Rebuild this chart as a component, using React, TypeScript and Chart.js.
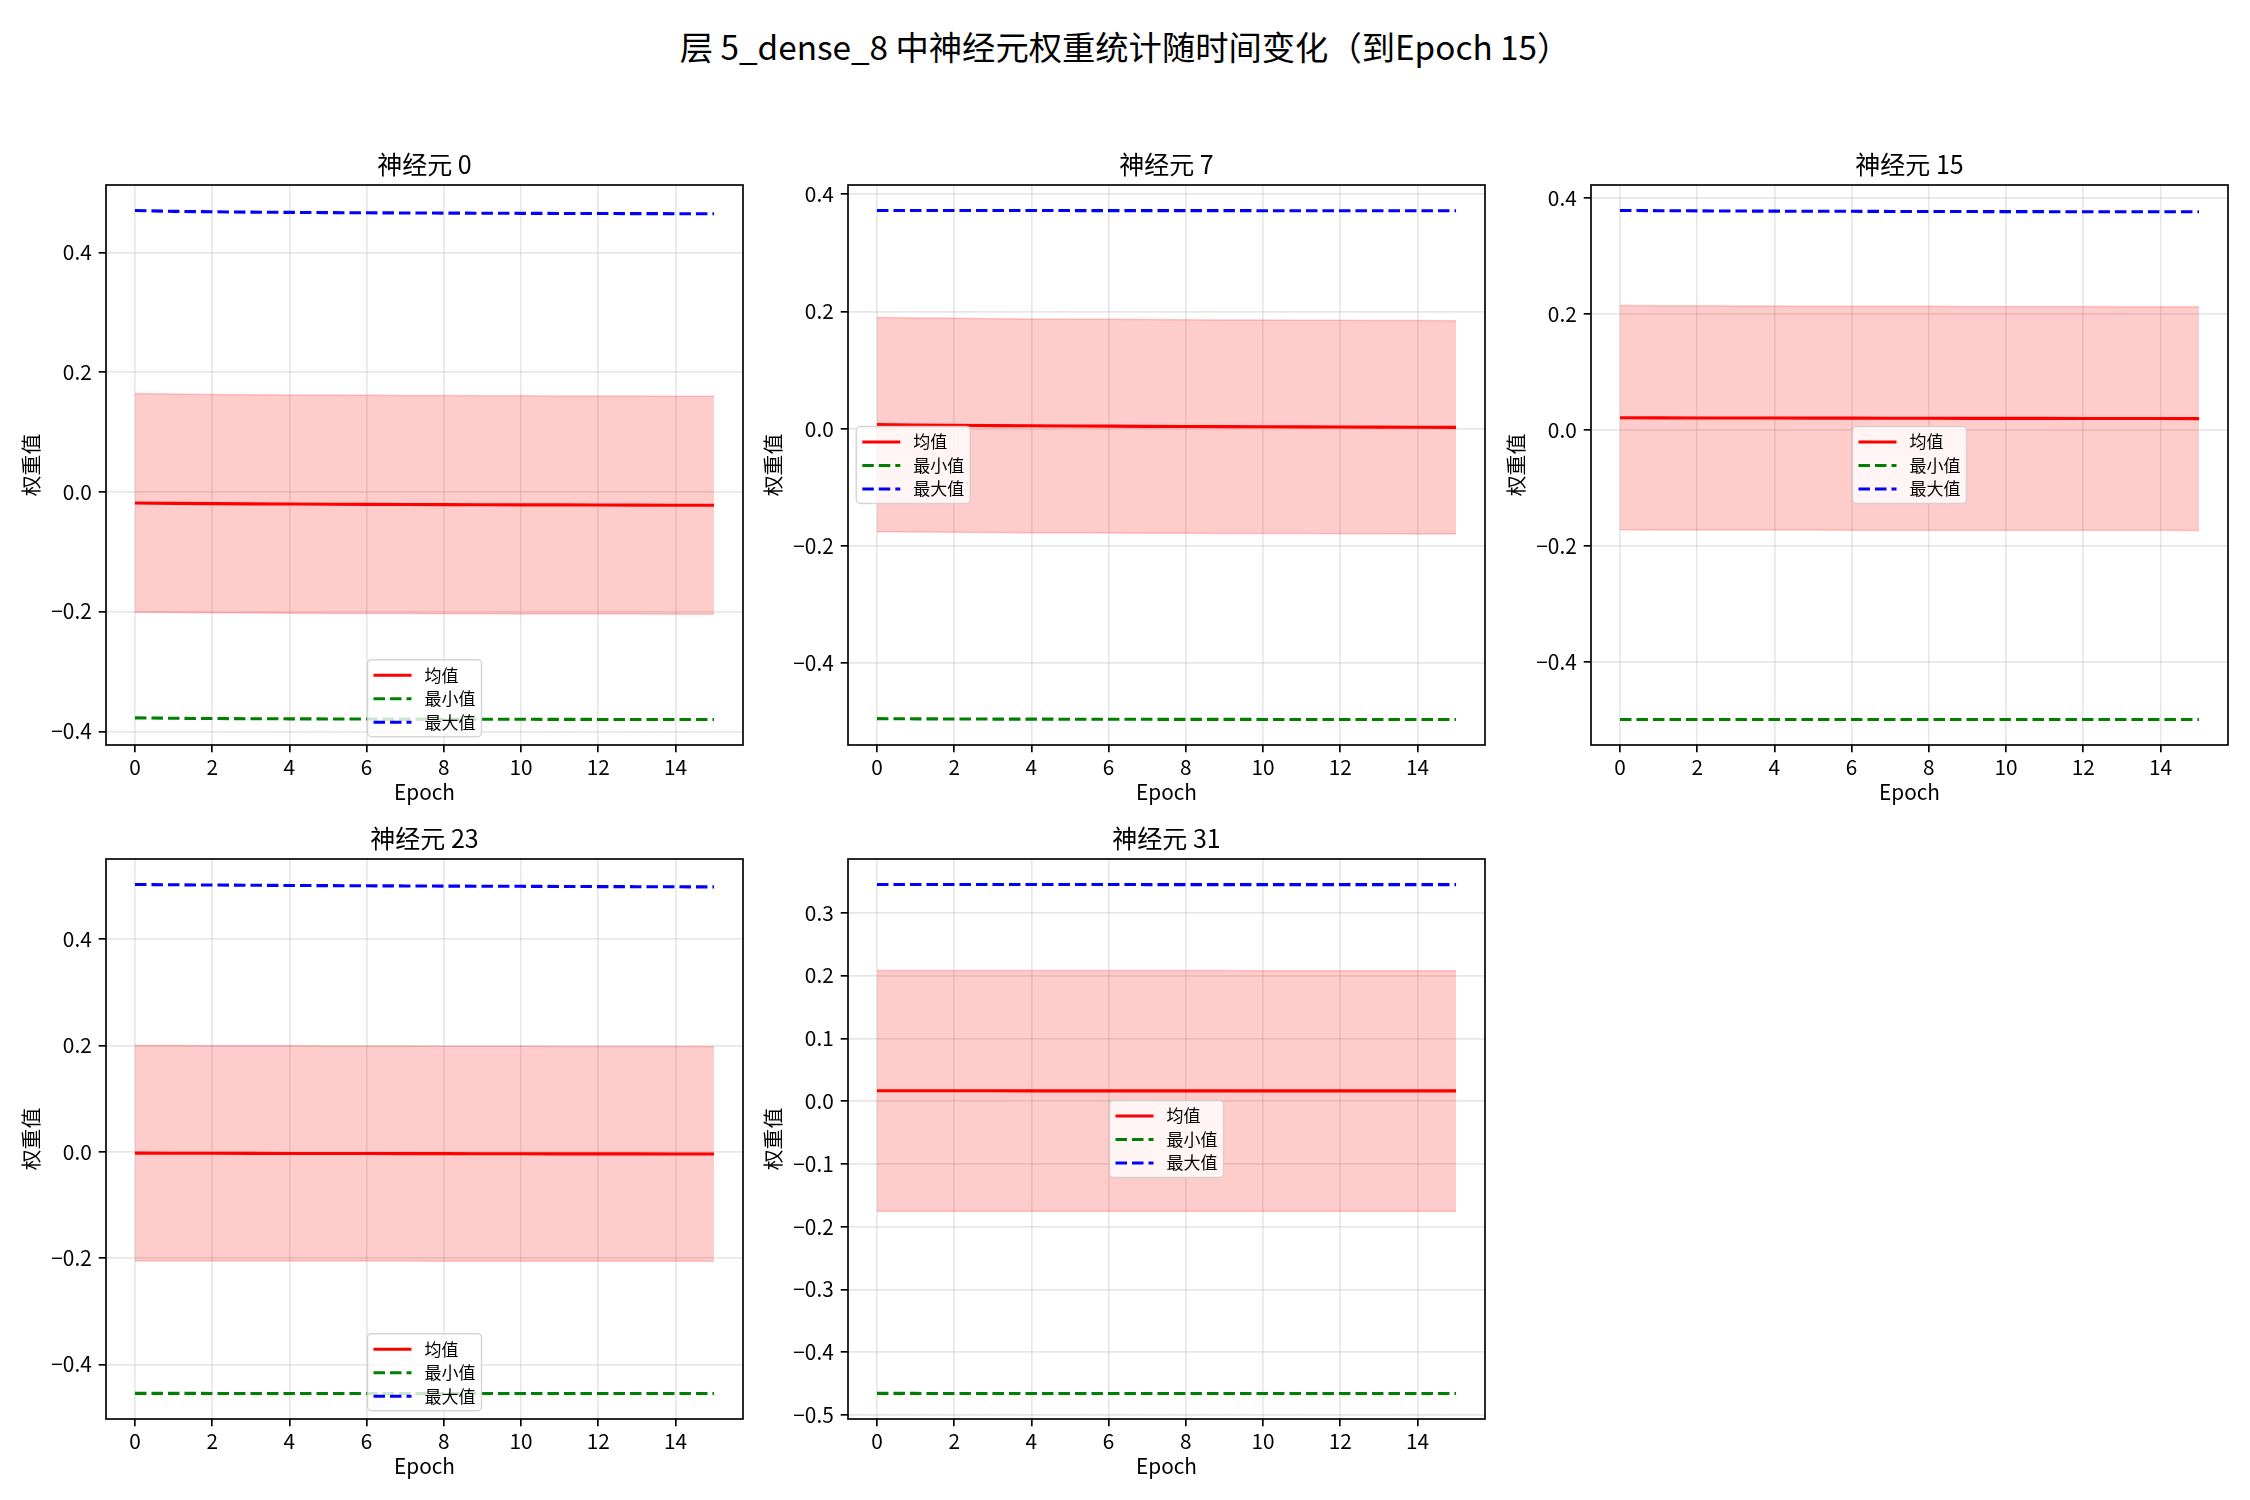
import React, { useEffect, useRef } from "react";
import { Chart, registerables } from "chart.js";

Chart.register(...registerables);

const FONT = "'Noto Sans CJK SC', 'Noto Sans', sans-serif";
Chart.defaults.font.family = FONT;
Chart.defaults.color = "#000";

// ---------------- data ----------------
const SUPTITLE = "层 5_dense_8 中神经元权重统计随时间变化（到Epoch 15）";
const epochs = [0, 1, 2, 3, 4, 5, 6, 7, 8, 9, 10, 11, 12, 13, 14, 15];
const xTicks = [0, 2, 4, 6, 8, 10, 12, 14];
const yTicksWide = [-0.4, -0.2, 0.0, 0.2, 0.4];
const yTicksFine = [-0.5, -0.4, -0.3, -0.2, -0.1, 0.0, 0.1, 0.2, 0.3];
const seriesLabels = ["均值", "最小值", "最大值"];
const xAxisLabel = "Epoch";
const yAxisLabel = "权重值";
const neuronTitles = ["神经元 0", "神经元 7", "神经元 15", "神经元 23", "神经元 31"];

// neuron 0
const mean0 = [-0.0185, -0.0192, -0.0197, -0.0201, -0.0204, -0.0207, -0.0209, -0.0211, -0.0213, -0.0215, -0.0217, -0.0218, -0.0220, -0.0221, -0.0223, -0.0224];
const std0 = [0.1826, 0.1825, 0.1824, 0.1824, 0.1823, 0.1823, 0.1823, 0.1822, 0.1822, 0.1822, 0.1822, 0.1821, 0.1821, 0.1821, 0.1821, 0.1820];
const min0 = [-0.3775, -0.3782, -0.3786, -0.3789, -0.3791, -0.3793, -0.3795, -0.3796, -0.3797, -0.3798, -0.3799, -0.3800, -0.3801, -0.3802, -0.3802, -0.3803];
const max0 = [0.4700, 0.4685, 0.4678, 0.4672, 0.4668, 0.4664, 0.4661, 0.4658, 0.4656, 0.4654, 0.4652, 0.4650, 0.4649, 0.4647, 0.4646, 0.4645];

// neuron 7
const mean7 = [0.0068, 0.0062, 0.0057, 0.0052, 0.0048, 0.0045, 0.0042, 0.0039, 0.0036, 0.0034, 0.0032, 0.0030, 0.0028, 0.0026, 0.0024, 0.0022];
const std7 = [0.1826, 0.1825, 0.1824, 0.1824, 0.1823, 0.1823, 0.1822, 0.1822, 0.1822, 0.1821, 0.1821, 0.1821, 0.1821, 0.1820, 0.1820, 0.1820];
const min7 = [-0.4948, -0.4951, -0.4953, -0.4955, -0.4956, -0.4957, -0.4958, -0.4959, -0.4960, -0.4960, -0.4961, -0.4961, -0.4962, -0.4962, -0.4963, -0.4963];
const max7 = [0.3722, 0.3721, 0.3721, 0.3720, 0.3720, 0.3720, 0.3719, 0.3719, 0.3719, 0.3719, 0.3718, 0.3718, 0.3718, 0.3718, 0.3718, 0.3717];

// neuron 15
const mean15 = [0.0209, 0.0207, 0.0205, 0.0204, 0.0203, 0.0202, 0.0201, 0.0200, 0.0199, 0.0198, 0.0197, 0.0197, 0.0196, 0.0195, 0.0195, 0.0194];
const std15 = [0.1934, 0.1933, 0.1933, 0.1932, 0.1932, 0.1931, 0.1931, 0.1930, 0.1930, 0.1930, 0.1929, 0.1929, 0.1929, 0.1928, 0.1928, 0.1928];
const min15 = [-0.4994, -0.4994, -0.4994, -0.4994, -0.4995, -0.4995, -0.4995, -0.4995, -0.4995, -0.4995, -0.4995, -0.4995, -0.4996, -0.4996, -0.4996, -0.4996];
const max15 = [0.3783, 0.3779, 0.3776, 0.3773, 0.3771, 0.3769, 0.3768, 0.3766, 0.3765, 0.3764, 0.3763, 0.3762, 0.3761, 0.3761, 0.3760, 0.3760];

// neuron 23
const mean23 = [-0.0024, -0.0026, -0.0027, -0.0029, -0.0030, -0.0031, -0.0032, -0.0033, -0.0034, -0.0035, -0.0036, -0.0037, -0.0038, -0.0038, -0.0039, -0.0040];
const std23 = [0.2027, 0.2026, 0.2025, 0.2024, 0.2024, 0.2023, 0.2023, 0.2022, 0.2022, 0.2021, 0.2021, 0.2021, 0.2020, 0.2020, 0.2020, 0.2019];
const min23 = [-0.4543, -0.4543, -0.4544, -0.4544, -0.4544, -0.4544, -0.4545, -0.4545, -0.4545, -0.4545, -0.4545, -0.4546, -0.4546, -0.4546, -0.4546, -0.4546];
const max23 = [0.5030, 0.5024, 0.5019, 0.5015, 0.5011, 0.5008, 0.5005, 0.5002, 0.4999, 0.4997, 0.4995, 0.4992, 0.4990, 0.4988, 0.4986, 0.4984];

// neuron 31
const mean31 = [0.0165, 0.0165, 0.0165, 0.0165, 0.0164, 0.0164, 0.0164, 0.0164, 0.0164, 0.0164, 0.0163, 0.0163, 0.0163, 0.0163, 0.0163, 0.0163];
const std31 = [0.1918, 0.1918, 0.1918, 0.1918, 0.1917, 0.1917, 0.1917, 0.1917, 0.1917, 0.1917, 0.1916, 0.1916, 0.1916, 0.1916, 0.1916, 0.1916];
const min31 = [-0.4657, -0.4657, -0.4658, -0.4658, -0.4658, -0.4658, -0.4658, -0.4658, -0.4659, -0.4659, -0.4659, -0.4659, -0.4659, -0.4659, -0.4659, -0.4659];
const max31 = [0.3452, 0.3452, 0.3451, 0.3451, 0.3451, 0.3451, 0.3451, 0.3450, 0.3450, 0.3450, 0.3450, 0.3450, 0.3450, 0.3450, 0.3449, 0.3449];

// ---------------- layout / style ----------------
const AREA_W = 637;
const AREA_H = 560;
const PAD_L = 100;
const PAD_T = 40;
const PAD_B = 80;
const PAD_R = 15;
const colLefts = [106, 848, 1591];
const rowTops = [185, 859];

const RED = "#ff0000";
const GREEN = "#008000";
const BLUE = "#0000ff";
const BAND = "rgba(255,0,0,0.2)";
const DASH = [11.5, 5];
const LW = 3.1;
const THIN = 1.67;
const GRID = "rgba(176,176,176,0.3)";

type Panel = {
  title: string;
  mean: number[];
  std: number[];
  min: number[];
  max: number[];
  yTicks: number[];
  legendLoc: string;
  col: number;
  row: number;
};

const panels: Panel[] = [
  { title: neuronTitles[0], mean: mean0, std: std0, min: min0, max: max0, yTicks: yTicksWide, legendLoc: "lower center", col: 0, row: 0 },
  { title: neuronTitles[1], mean: mean7, std: std7, min: min7, max: max7, yTicks: yTicksWide, legendLoc: "center left", col: 1, row: 0 },
  { title: neuronTitles[2], mean: mean15, std: std15, min: min15, max: max15, yTicks: yTicksWide, legendLoc: "center", col: 2, row: 0 },
  { title: neuronTitles[3], mean: mean23, std: std23, min: min23, max: max23, yTicks: yTicksWide, legendLoc: "lower center", col: 0, row: 1 },
  { title: neuronTitles[4], mean: mean31, std: std31, min: min31, max: max31, yTicks: yTicksFine, legendLoc: "center", col: 1, row: 1 },
];

const fmtY = (v: number) => {
  const s = Math.abs(v) < 1e-9 ? "0.0" : v.toFixed(1);
  return s.replace("-", "\u2212");
};

const decoPlugin = {
  id: "panelDeco",
  afterDraw(chart: any, _args: any, opts: any) {
    const { ctx, chartArea: a } = chart;
    ctx.save();
    // frame (all four spines)
    ctx.strokeStyle = "#000";
    ctx.lineWidth = THIN;
    ctx.setLineDash([]);
    ctx.strokeRect(a.left, a.top, a.right - a.left, a.bottom - a.top);

    // legend
    const items = chart.data.datasets.filter((d: any) => !String(d.label).startsWith("_"));
    const bw = 114;
    const bh = 77;
    const pad = 8.3;
    const w = a.right - a.left;
    const h = a.bottom - a.top;
    let bx = a.left + (w - bw) / 2;
    let by = a.top + (h - bh) / 2;
    const loc = opts.loc || "center";
    if (loc === "lower center") by = a.bottom - pad - bh;
    if (loc === "center left") bx = a.left + pad;
    ctx.beginPath();
    if ((ctx as any).roundRect) (ctx as any).roundRect(bx, by, bw, bh, 4);
    else ctx.rect(bx, by, bw, bh);
    ctx.fillStyle = "rgba(255,255,255,0.8)";
    ctx.fill();
    ctx.strokeStyle = "rgba(204,204,204,0.8)";
    ctx.lineWidth = 1.5;
    ctx.stroke();

    ctx.font = `17px ${FONT}`;
    ctx.textBaseline = "middle";
    ctx.textAlign = "left";
    items.forEach((d: any, i: number) => {
      const cy = by + 15.5 + i * 23.5;
      ctx.beginPath();
      ctx.strokeStyle = d.borderColor;
      ctx.lineWidth = d.borderWidth;
      ctx.setLineDash(d.borderDash || []);
      ctx.moveTo(bx + 6, cy);
      ctx.lineTo(bx + 44, cy);
      ctx.stroke();
      ctx.setLineDash([]);
      ctx.fillStyle = "#000";
      ctx.fillText(d.label, bx + 57, cy);
    });
    ctx.restore();
  },
};

function PanelChart({ p }: { p: Panel }) {
  const ref = useRef<HTMLCanvasElement>(null);
  useEffect(() => {
    if (!ref.current) return;
    const upper = p.mean.map((m, i) => m + p.std[i]);
    const lower = p.mean.map((m, i) => m - p.std[i]);
    const all = [...p.min, ...p.max, ...upper, ...lower, ...p.mean];
    const lo = Math.min(...all);
    const hi = Math.max(...all);
    const my = (hi - lo) * 0.05;
    const x0 = epochs[0];
    const x1 = epochs[epochs.length - 1];
    const mx = (x1 - x0) * 0.05;
    const xy = (arr: number[]) => epochs.map((e, i) => ({ x: e, y: arr[i] }));

    const tickFont = { family: FONT, size: 20.8, lineHeight: 1.2 };
    const chart = new Chart(ref.current, {
      type: "line",
      data: {
        datasets: [
          { label: "_upper", data: xy(upper), borderColor: BAND, backgroundColor: BAND, borderWidth: 1.5, fill: "+1", pointRadius: 0, order: 3 },
          { label: "_lower", data: xy(lower), borderColor: BAND, backgroundColor: BAND, borderWidth: 1.5, fill: false, pointRadius: 0, order: 3 },
          { label: seriesLabels[0], data: xy(p.mean), borderColor: RED, borderWidth: LW, pointRadius: 0, fill: false, order: 0 },
          { label: seriesLabels[1], data: xy(p.min), borderColor: GREEN, borderWidth: LW, borderDash: DASH, pointRadius: 0, fill: false, order: 1 },
          { label: seriesLabels[2], data: xy(p.max), borderColor: BLUE, borderWidth: LW, borderDash: DASH, pointRadius: 0, fill: false, order: 2 },
        ] as any,
      },
      options: {
        responsive: false,
        animation: false,
        events: [],
        layout: { padding: { left: 0, top: 0, bottom: 0, right: PAD_R } },
        plugins: {
          legend: { display: false },
          tooltip: { enabled: false },
          title: {
            display: true,
            fullSize: false,
            text: p.title,
            color: "#000",
            font: { family: FONT, size: 25, weight: "normal", lineHeight: 1.2 },
            padding: { top: 4.5, bottom: 5.5 },
          },
          panelDeco: { loc: p.legendLoc },
        } as any,
        scales: {
          x: {
            type: "linear",
            min: x0 - mx,
            max: x1 + mx,
            afterBuildTicks: (s: any) => {
              s.ticks = xTicks.map((v) => ({ value: v }));
            },
            afterFit: (s: any) => {
              s.height = PAD_B;
            },
            ticks: {
              autoSkip: false,
              maxRotation: 0,
              padding: 2.5,
              color: "#000",
              font: tickFont,
              callback: (v: any) => String(v),
            },
            grid: { color: GRID, lineWidth: THIN, tickColor: "#000", tickWidth: THIN, tickLength: 7.3 },
            border: { display: false },
            title: {
              display: true,
              text: xAxisLabel,
              color: "#000",
              font: { family: FONT, size: 20.8, lineHeight: 1.2 },
              padding: { top: 0, bottom: 20.5 },
            },
          },
          y: {
            type: "linear",
            min: lo - my,
            max: hi + my,
            afterBuildTicks: (s: any) => {
              s.ticks = p.yTicks.map((v) => ({ value: v }));
            },
            afterFit: (s: any) => {
              s.width = PAD_L;
            },
            ticks: {
              autoSkip: false,
              padding: 7,
              color: "#000",
              font: tickFont,
              callback: (v: any) => fmtY(Number(v)),
            },
            grid: { color: GRID, lineWidth: THIN, tickColor: "#000", tickWidth: THIN, tickLength: 7.3 },
            border: { display: false },
            title: {
              display: true,
              text: yAxisLabel,
              color: "#000",
              font: { family: FONT, size: 20.8, lineHeight: 1.2 },
              padding: { top: 12.5, bottom: 0 },
            },
          },
        },
      } as any,
      plugins: [decoPlugin as any],
    });
    return () => chart.destroy();
  }, [p]);

  const left = colLefts[p.col] - PAD_L;
  const top = rowTops[p.row] - PAD_T;
  const w = PAD_L + AREA_W + PAD_R;
  const h = PAD_T + AREA_H + PAD_B;
  return (
    <canvas
      ref={ref}
      width={w}
      height={h}
      style={{ position: "absolute", left, top, width: w, height: h }}
    />
  );
}

export default function App() {
  return (
    <div
      style={{
        position: "absolute",
        left: 0,
        top: 0,
        width: 2250,
        height: 1500,
        background: "#fff",
        overflow: "hidden",
      }}
    >
      <div
        style={{
          position: "absolute",
          left: 0,
          top: 26,
          width: 2250,
          textAlign: "center",
          fontFamily: FONT,
          fontSize: 33.3,
          lineHeight: "40px",
          color: "#000",
          whiteSpace: "pre",
        }}
      >
        {SUPTITLE}
      </div>
      {panels.map((p, i) => (
        <PanelChart key={i} p={p} />
      ))}
    </div>
  );
}
